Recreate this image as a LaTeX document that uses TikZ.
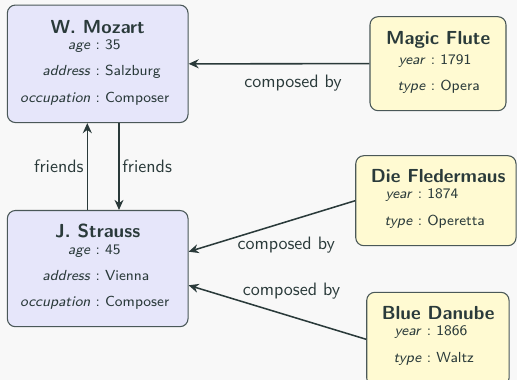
\documentclass[tikz,border=0pt]{standalone}
\usepackage{fontspec}
\usetikzlibrary{arrows.meta,calc}
\definecolor{bgc}{HTML}{F8F8F8}
\definecolor{ink}{HTML}{2A3A3A}
\definecolor{edgec}{HTML}{4A5858}
\definecolor{lav}{HTML}{E6E6FA}
\definecolor{lem}{HTML}{FFFAD2}
\newcommand\attrkv[2]{\llap{\textit{#1}\ }:\rlap{\ #2}}
\begin{document}
\begin{tikzpicture}[x=0.556pt,y=-0.556pt,
 box/.style={draw=edgec, line width=0.6pt, rounded corners=4.5pt, inner sep=0pt},
 person/.style={box, fill=lav},
 work/.style={box, fill=lem},
 ttl/.style={font=\sffamily\bfseries\fontsize{10.5}{12}\selectfont, text=ink, anchor=base, inner sep=0pt},
 attr/.style={font=\sffamily\fontsize{8.1}{10}\selectfont, text=ink, anchor=base, inner sep=0pt},
 lbl/.style={font=\sffamily\fontsize{10}{12}\selectfont, text=ink, anchor=base, inner sep=0pt},
 arr/.style={draw=ink, line width=0.85pt, -{Stealth[length=5.6pt,width=5pt,inset=1.8pt]}}
]
\useasboundingbox (0,0) rectangle (517,380);
\fill[bgc] (0,0) rectangle (517,380);
\clip (0,0) rectangle (517,380);

% boxes
\node[person, minimum width=180.7*0.556pt, minimum height=117.5*0.556pt] (mz) at (97.7,63.8) {};
\node[person, minimum width=180.7*0.556pt, minimum height=116.2*0.556pt] (st) at (97.7,268.6) {};
\node[work, minimum width=136*0.556pt, minimum height=94*0.556pt] (mf) at (438,63.7) {};
\node[work, minimum width=160.3*0.556pt, minimum height=90*0.556pt] (fl) at (435.9,200.7) {};
\node[work, minimum width=142.3*0.556pt, minimum height=94*0.556pt] (bd) at (437.9,339.3) {};

% Mozart
\node[ttl] (mz-t) at (97.7,33.3) {W. Mozart};
\node[attr] (mz-a) at (97.8,50) {\attrkv{age}{35}};
\node[attr] (mz-b) at (97.8,76) {\attrkv{address}{Salzburg}};
\node[attr] (mz-c) at (97.8,102.3) {\attrkv{occupation}{Composer}};

% Strauss
\node[ttl] (st-t) at (97.7,237.7) {J. Strauss};
\node[attr] (st-a) at (97.8,254.3) {\attrkv{age}{45}};
\node[attr] (st-b) at (97.8,281) {\attrkv{address}{Vienna}};
\node[attr] (st-c) at (97.8,306.7) {\attrkv{occupation}{Composer}};

% Magic Flute
\node[ttl] (mf-t) at (438.2,44.3) {Magic Flute};
\node[attr] (mf-a) at (433,65) {\attrkv{year}{1791}};
\node[attr] (mf-b) at (433,91) {\attrkv{type}{Opera}};

% Die Fledermaus
\node[ttl] (fl-t) at (438.2,182.3) {Die Fledermaus};
\node[attr] (fl-a) at (420,198.7) {\attrkv{year}{1874}};
\node[attr] (fl-b) at (420,226) {\attrkv{type}{Operetta}};

% Blue Danube
\node[ttl] (bd-t) at (438.2,319.3) {Blue Danube};
\node[attr] (bd-a) at (429,336) {\attrkv{year}{1866}};
\node[attr] (bd-b) at (429,362.7) {\attrkv{type}{Waltz}};

% connectors
\draw[arr] (mf.west) -- (mz.east);
\node[lbl] (l-mf) at (293,87.3) {composed by};

\draw[arr] ($(st.north)+(-10.4,0)$) -- ($(mz.south)+(-10.4,0)$);
\draw[arr] ($(mz.south)+(21.3,0)$) -- ($(st.north)+(21.3,0)$);
\node[lbl] (l-fr1) at (58.8,172.3) {friends};
\node[lbl] (l-fr2) at (147.2,172.3) {friends};

\draw[arr] (fl.west) -- ($(st.east)+(0,-16.9)$);
\node[lbl] (l-fl) at (286.2,249.3) {composed by};
\draw[arr] (bd.west) -- ($(st.east)+(0,16.7)$);
\node[lbl] (l-bd) at (291.5,295.7) {composed by};
\end{tikzpicture}
\end{document}
